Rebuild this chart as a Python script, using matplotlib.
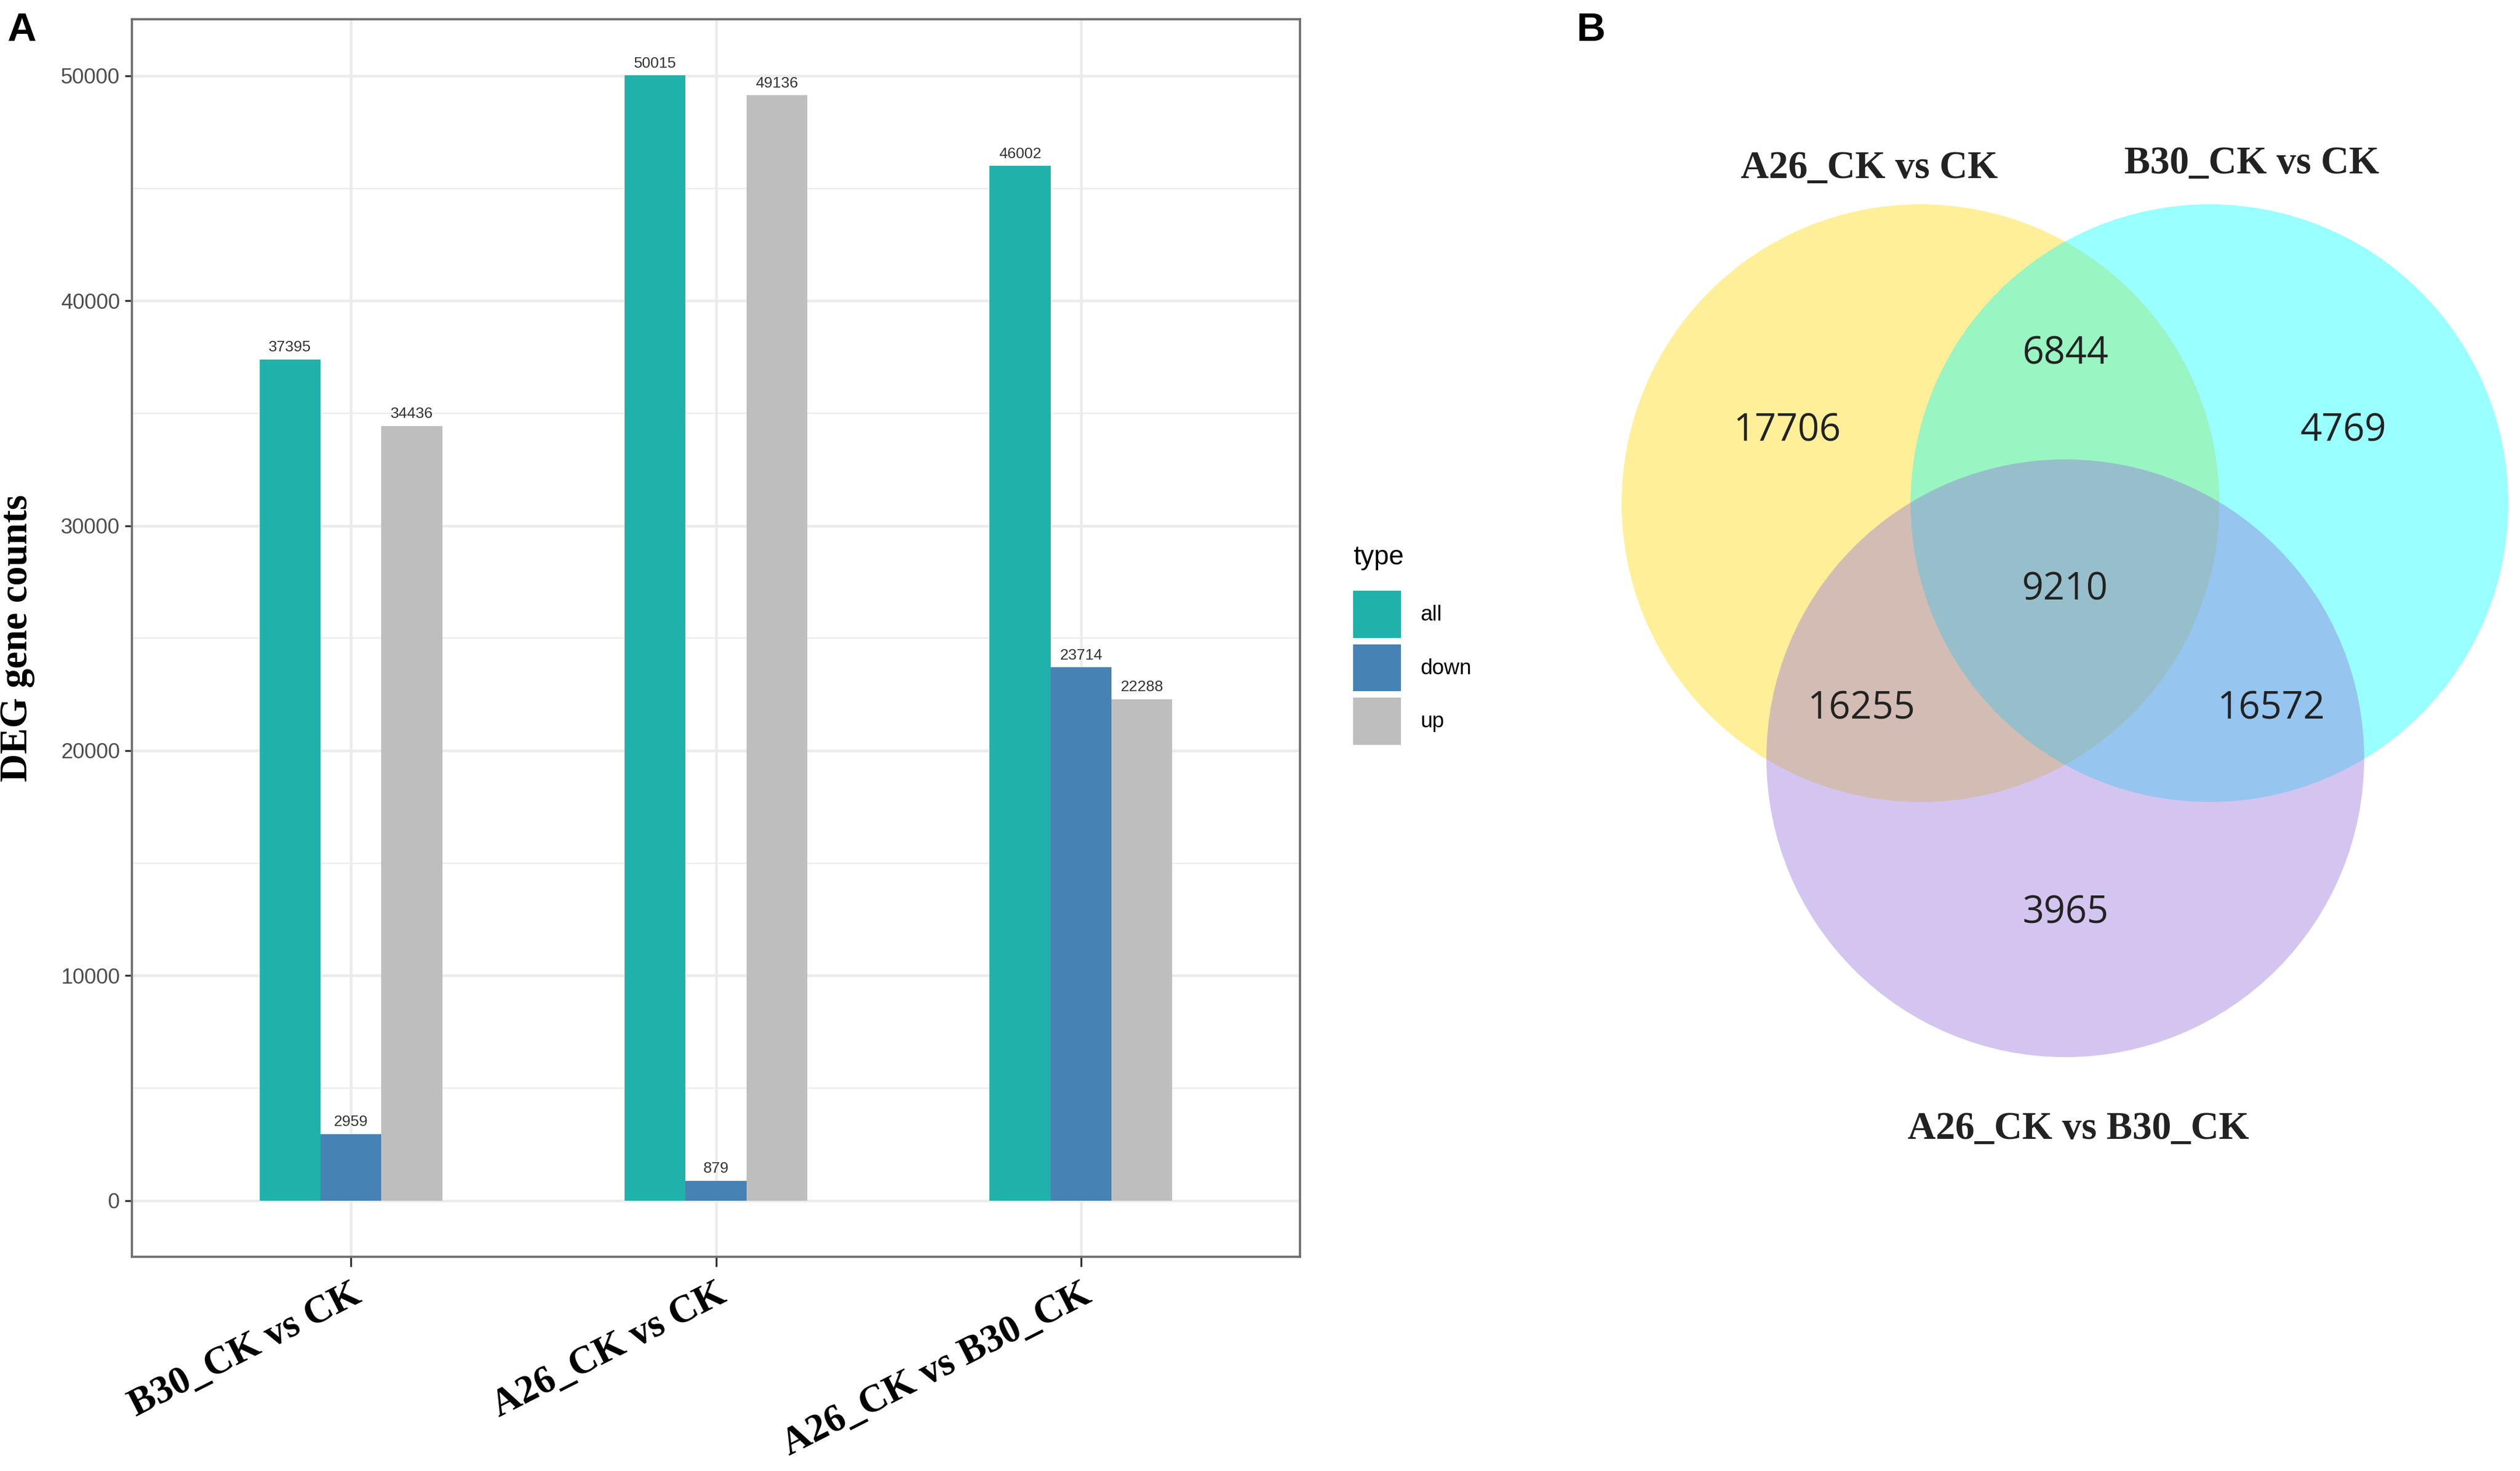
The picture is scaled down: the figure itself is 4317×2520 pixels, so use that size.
import numpy as np
import matplotlib
matplotlib.use("Agg")
import matplotlib.pyplot as plt
from matplotlib.patches import Circle
from matplotlib.ticker import MultipleLocator

# data
comparisons = ["B30_CK vs CK", "A26_CK vs CK", "A26_CK vs B30_CK"]
types = ["all", "down", "up"]
all_counts = [37395, 50015, 46002]
down_counts = [2959, 879, 23714]
up_counts = [34436, 49136, 22288]
type_colors = ["#20B2AA", "#4682B4", "#BEBEBE"]

venn_sets = ["A26_CK vs CK", "B30_CK vs CK", "A26_CK vs B30_CK"]
venn_colors = ["#FFD700", "#00FFFF", "#9370DB"]
# only A, A&B, only B, A&B&C, A&C, B&C, only C
venn_counts = [17706, 6844, 4769, 9210, 16255, 16572, 3965]

W, H = 4317, 2520
fig = plt.figure(figsize=(W / 300, H / 300), dpi=300)
fig.patch.set_facecolor("white")

serif = "Liberation Serif"
sans = "Liberation Sans"

# ---------- panel A : bar chart ----------
ax = fig.add_axes([226 / W, 1 - 2153 / H, (2227 - 226) / W, (2153 - 33) / H])
x = np.arange(len(comparisons))
bw = 0.5 / 3
series = [all_counts, down_counts, up_counts]
containers = []
for i, (vals, col) in enumerate(zip(series, type_colors)):
    bars = ax.bar(x + (i - 1) * bw, vals, width=bw, color=col, label=types[i], zorder=3)
    ax.bar_label(bars, padding=2, fontsize=6.3, color="#333333", family=sans)
    containers.append(bars)

ax.set_xlim(-0.6, len(comparisons) - 0.4)
ax.set_ylim(-2500.75, 52515.75)
ax.set_xticks(x)
ax.set_xticklabels(comparisons, rotation=27, ha="right", va="top",
                   rotation_mode="anchor", family=serif, fontweight="bold",
                   fontsize=16)
ax.yaxis.set_major_locator(MultipleLocator(10000))
ax.yaxis.set_minor_locator(MultipleLocator(5000))
for lab in ax.get_yticklabels():
    lab.set_family(sans)
ax.tick_params(axis="y", labelsize=8.8, labelcolor="#4D4D4D", length=3,
               width=0.8, color="#333333", pad=2)
ax.tick_params(axis="y", which="minor", length=0)
ax.tick_params(axis="x", length=4, width=0.8, color="#333333", pad=4)
ax.grid(True, which="major", color="#EBEBEB", lw=1.1, zorder=0)
ax.grid(True, which="minor", axis="y", color="#EBEBEB", lw=0.55, zorder=0)
ax.set_axisbelow(True)
for sp in ax.spines.values():
    sp.set_color("#6E6E6E")
    sp.set_linewidth(0.9)
ax.set_ylabel("DEG gene counts", family=serif, fontweight="bold", fontsize=16)
ax.yaxis.set_label_coords(-0.083, 0.5)

leg = fig.legend(handles=containers, labels=types, title="type", loc="upper left",
                 bbox_to_anchor=(2318 / W, 1 - 933 / H), frameon=False,
                 prop={"family": sans, "size": 8.8},
                 title_fontproperties={"family": sans, "size": 11},
                 handlelength=2.24, handleheight=3.0, labelspacing=0.3,
                 handletextpad=0.9, borderpad=0, borderaxespad=0, alignment="left")
# more room between title and keys, like ggplot
leg._legend_box.sep = 8.5

fig.text(12 / W, 1 - 20 / H, "A", family=sans, fontweight="bold", fontsize=16.5,
         ha="left", va="top")
fig.text(2700 / W, 1 - 20 / H, "B", family=sans, fontweight="bold", fontsize=16.5,
         ha="left", va="top")

# ---------- panel B : venn diagram ----------
vx0 = 2600
ax2 = fig.add_axes([vx0 / W, 0, (W - vx0) / W, 1])
ax2.set_xlim(vx0, W)
ax2.set_ylim(H, 0)
ax2.axis("off")

r = 512
centers = [(3290, 862), (3785, 862), (3538, 1299)]
for (cx, cy), col in zip(centers, venn_colors):
    ax2.add_patch(Circle((cx, cy), r, fc=col, ec="none", alpha=0.4))

region_pos = [(3061, 738), (3538, 606), (4014, 738), (3538, 1010),
              (3188, 1214), (3890, 1214), (3538, 1564)]
for (px, py), n in zip(region_pos, venn_counts):
    ax2.text(px, py, str(n), family="Open Sans", fontsize=15.5, color="#222222",
             ha="center", va="center")

label_pos = [(3202, 289), (3857, 281), (3560, 1935)]
for (px, py), name in zip(label_pos, venn_sets):
    ax2.text(px, py, name, family=serif, fontweight="bold", fontsize=16,
             color="#222222", ha="center", va="center")

fig.savefig("out.png", dpi=300, facecolor="white")
